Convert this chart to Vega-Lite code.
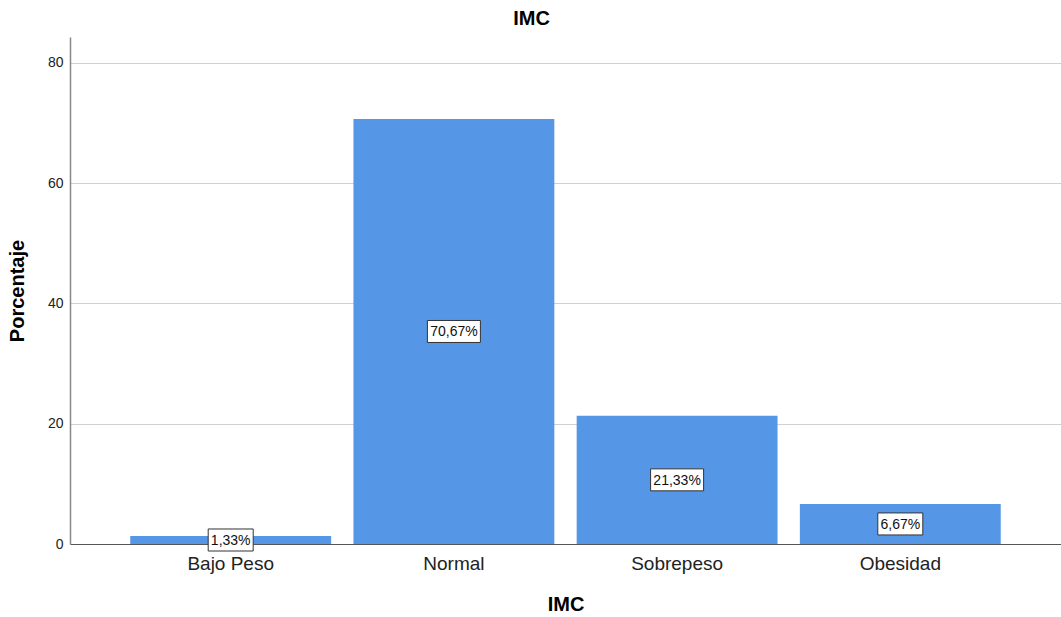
{
  "$schema": "https://vega.github.io/schema/vega-lite/v6.json",
  "autosize": {"type": "none"},
  "width": 991,
  "height": 507,
  "padding": {"left": 70, "top": 37, "right": 0, "bottom": 73},
  "background": "white",
  "config": {
    "view": {"stroke": null},
    "font": "Liberation Sans"
  },
  "title": {
    "text": "IMC",
    "fontSize": 20,
    "fontWeight": "bold",
    "font": "Liberation Sans",
    "color": "#000000",
    "anchor": "middle",
    "dx": -34,
    "offset": 8
  },
  "data": {
    "values": [
      {"IMC": "Bajo Peso", "Porcentaje": 1.33, "Etiqueta": "1,33%"},
      {"IMC": "Normal", "Porcentaje": 70.67, "Etiqueta": "70,67%"},
      {"IMC": "Sobrepeso", "Porcentaje": 21.33, "Etiqueta": "21,33%"},
      {"IMC": "Obesidad", "Porcentaje": 6.67, "Etiqueta": "6,67%"}
    ]
  },
  "transform": [{"calculate": "datum.Porcentaje / 2", "as": "Medio"}],
  "encoding": {
    "x": {
      "field": "IMC",
      "type": "nominal",
      "sort": ["Bajo Peso", "Normal", "Sobrepeso", "Obesidad"],
      "scale": {"paddingInner": 0.1, "paddingOuter": 0.27},
      "axis": {
        "title": "IMC",
        "labelAngle": 0,
        "labelFontSize": 19,
        "labelColor": "#222222",
        "labelPadding": 10,
        "ticks": false,
        "tickSize": 0,
        "domainColor": "#555555",
        "domainWidth": 1.2,
        "titleFontSize": 20,
        "titleFontWeight": "bold",
        "titleColor": "#000000",
        "titlePadding": 21
      }
    }
  },
  "layer": [
    {
      "mark": {"type": "bar", "color": "#5596E6"},
      "encoding": {
        "y": {
          "field": "Porcentaje",
          "type": "quantitative",
          "scale": {"domain": [0, 84.3], "nice": false},
          "axis": {
            "title": "Porcentaje",
            "values": [0, 20, 40, 60, 80],
            "ticks": false,
            "tickSize": 0,
            "labelPadding": 7,
            "labelFontSize": 14,
            "labelColor": "#222222",
            "domainColor": "#888888",
            "domainWidth": 1.5,
            "gridColor": "#d0d0d0",
            "gridWidth": 1.2,
            "titleFontSize": 20,
            "titleFontWeight": "bold",
            "titleColor": "#000000",
            "titlePadding": 20
          }
        }
      }
    },
    {
      "mark": {"type": "point", "filled": false, "fill": "white", "fillOpacity": 1, "stroke": "#333333", "strokeWidth": 1, "opacity": 1},
      "encoding": {
        "y": {"field": "Medio", "type": "quantitative"},
        "shape": {
          "condition": {"test": "length(datum.Etiqueta) > 5", "value": "M-1,-0.415H1V0.415H-1Z"},
          "value": "M-1,-0.489H1V0.489H-1Z"
        },
        "size": {
          "condition": {"test": "length(datum.Etiqueta) > 5", "value": 2809},
          "value": 2025
        }
      }
    },
    {
      "mark": {"type": "text", "fontSize": 14, "color": "#111111", "baseline": "middle", "dy": 1},
      "encoding": {
        "y": {"field": "Medio", "type": "quantitative"},
        "text": {"field": "Etiqueta"}
      }
    }
  ]
}
